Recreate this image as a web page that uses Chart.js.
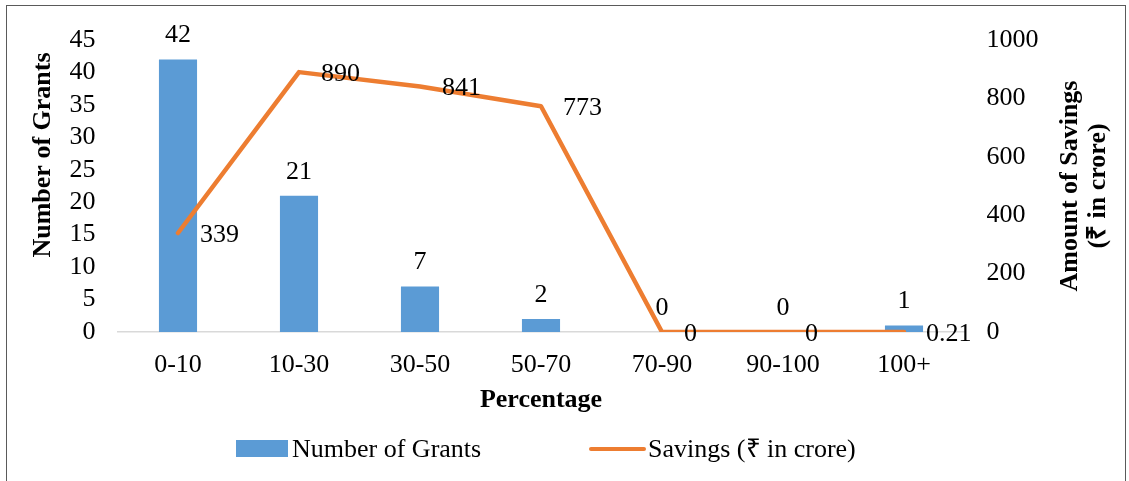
<!DOCTYPE html>
<html>
<head>
<meta charset="utf-8">
<title>Grants and Savings by Percentage</title>
<script src="https://cdn.jsdelivr.net/npm/chart.js@4"></script>
<style>
    html, body { margin: 0; padding: 0; background: #fff; overflow: hidden; }
    .frame { position: absolute; left: 6px; top: 5px; width: 1118px; height: 520px; border: 1px solid #5a5a5a; }
    #chart { position: absolute; left: 0; top: 0; }
</style>
</head>
<body>
<div class="frame"></div>
<canvas id="chart" width="1129" height="481"></canvas>
<script>
// DATA
const categories = ['0-10', '10-30', '30-50', '50-70', '70-90', '90-100', '100+'];
const grantCounts = [42, 21, 7, 2, 0, 0, 1];
const savings = [339, 890, 841, 773, 0, 0, 0.21];
const savingsLabels = ['339', '890', '841', '773', '0', '0', '0.21'];
const leftTicks = [0, 5, 10, 15, 20, 25, 30, 35, 40, 45];
const rightTicks = [0, 200, 400, 600, 800, 1000];

const FONT = "'Liberation Serif', 'Times New Roman', serif";
const SIZE = 26;
const BLUE = '#5B9BD5';
const ORANGE = '#ED7D31';

// value labels, axis titles and legend
const extras = {
    id: 'extras',
    afterDatasetsDraw(chart) {
        const ctx = chart.ctx;
        ctx.save();
        ctx.font = SIZE + 'px ' + FONT;
        ctx.fillStyle = '#000';
        ctx.textBaseline = 'middle';
        // bar labels above the bars
        ctx.textAlign = 'center';
        chart.getDatasetMeta(1).data.forEach((bar, i) => {
            ctx.fillText(String(grantCounts[i]), bar.x, bar.y - 24);
        });
        // line labels to the right of the points
        ctx.textAlign = 'left';
        chart.getDatasetMeta(0).data.forEach((pt, i) => {
            ctx.fillText(savingsLabels[i], pt.x + 22, pt.y + 2);
        });
        ctx.restore();
    },
    afterDraw(chart) {
        const ctx = chart.ctx;
        const area = chart.chartArea;
        ctx.save();
        ctx.fillStyle = '#000';
        ctx.font = 'bold ' + SIZE + 'px ' + FONT;
        ctx.textAlign = 'center';
        ctx.textBaseline = 'middle';
        // left axis title (sits a bit above the plot centre, as in the source)
        ctx.save();
        ctx.translate(43, 155);
        ctx.rotate(-Math.PI / 2);
        ctx.fillText('Number of Grants', 0, 0);
        ctx.restore();
        // right axis title, reading bottom to top
        ctx.translate(1084, (area.top + area.bottom) / 2);
        ctx.rotate(-Math.PI / 2);
        ctx.fillText('Amount of Savings', 0, -14);
        ctx.fillText('(₹ in crore)', 0, 14);
        ctx.restore();

        // legend
        ctx.save();
        ctx.font = SIZE + 'px ' + FONT;
        ctx.textBaseline = 'middle';
        ctx.textAlign = 'left';
        const y = 449;
        ctx.fillStyle = BLUE;
        ctx.fillRect(236, y - 9, 52, 17);
        ctx.fillStyle = '#000';
        ctx.fillText(chart.data.datasets[1].label, 292, y + 1);
        ctx.strokeStyle = ORANGE;
        ctx.lineWidth = 4;
        ctx.lineCap = 'round';
        ctx.beginPath();
        ctx.moveTo(591, y);
        ctx.lineTo(644, y);
        ctx.stroke();
        ctx.fillText(chart.data.datasets[0].label, 648, y + 1);
        ctx.restore();
    }
};

const plain = v => String(v);

new Chart(document.getElementById('chart'), {
    data: {
        labels: categories,
        datasets: [
            {
                type: 'line',
                label: 'Savings (₹ in crore)',
                data: savings,
                yAxisID: 'yRight',
                borderColor: ORANGE,
                backgroundColor: ORANGE,
                borderWidth: 4.5,
                borderCapStyle: 'round',
                borderJoinStyle: 'round',
                pointRadius: 0,
                tension: 0,
                order: 0
            },
            {
                type: 'bar',
                label: 'Number of Grants',
                data: grantCounts,
                yAxisID: 'yLeft',
                backgroundColor: BLUE,
                borderWidth: 0,
                barPercentage: 0.315,
                categoryPercentage: 1,
                order: 1
            }
        ]
    },
    options: {
        responsive: false,
        animation: false,
        layout: { padding: { left: 0, right: 0, top: 40, bottom: 65 } },
        plugins: { legend: { display: false }, tooltip: { enabled: false } },
        scales: {
            x: {
                afterFit: s => { s.height = 84; },
                grid: { display: false, drawTicks: false },
                border: { display: true, color: '#D9D9D9', width: 1.5 },
                ticks: { color: '#000', font: { family: FONT, size: SIZE }, padding: 18, maxRotation: 0, autoSkip: false },
                title: { display: true, text: 'Percentage', color: '#000',
                         font: { family: FONT, size: SIZE, weight: 'bold' }, padding: { top: 0, bottom: 0 } }
            },
            yLeft: {
                position: 'left',
                min: 0, max: 45,
                afterBuildTicks: s => { s.ticks = leftTicks.map(v => ({ value: v })); },
                afterFit: s => { s.width = 117.5; },
                grid: { display: false, drawTicks: false },
                border: { display: false },
                ticks: { color: '#000', font: { family: FONT, size: SIZE }, padding: 22, autoSkip: false, callback: plain }
            },
            yRight: {
                position: 'right',
                min: 0, max: 1000,
                afterBuildTicks: s => { s.ticks = rightTicks.map(v => ({ value: v })); },
                afterFit: s => { s.width = 164.5; },
                grid: { display: false, drawTicks: false },
                border: { display: false },
                ticks: { color: '#000', font: { family: FONT, size: SIZE }, padding: 22, autoSkip: false, callback: plain }
            }
        }
    },
    plugins: [extras]
});
</script>
</body>
</html>
